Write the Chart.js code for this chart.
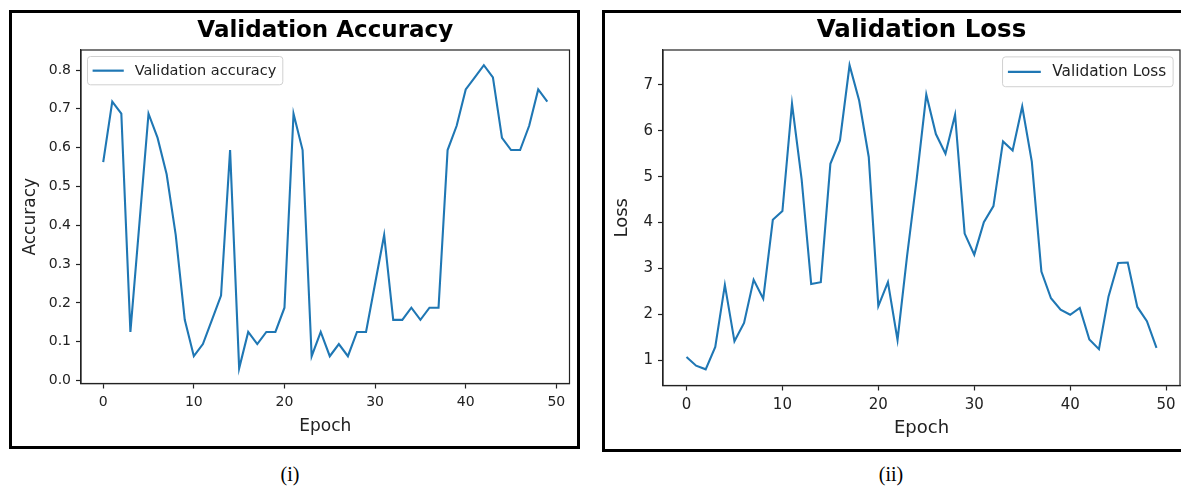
<!DOCTYPE html>
<html>
<head>
<meta charset="utf-8">
<script src="https://cdn.jsdelivr.net/npm/chart.js@4.4.1/dist/chart.umd.min.js"></script>
<style>
  html, body { margin:0; padding:0; background:#fff; width:1181px; height:488px; overflow:hidden; }
  .frame { position:absolute; box-sizing:border-box; border:3px solid #000; background:#fff; overflow:hidden; }
  canvas { position:absolute; left:0; top:0; }
  .cap { position:absolute; font-family:"Liberation Serif","DejaVu Serif",serif; font-size:20px; color:#000; transform:translate(-50%,-50%); white-space:nowrap; }
</style>
</head>
<body>
<div class="frame" id="f1" style="left:9px;top:10px;width:571px;height:439px;"><canvas id="c1" width="565" height="433"></canvas></div>
<div class="frame" id="f2" style="left:602px;top:10px;width:592px;height:442px;"><canvas id="c2" width="583" height="436"></canvas></div>
<div class="cap" style="left:290px;top:474px;">(i)</div>
<div class="cap" style="left:891px;top:474px;">(ii)</div>
<script>
// ---- data ----
const epochs = [0,1,2,3,4,5,6,7,8,9,10,11,12,13,14,15,16,17,18,19,20,21,22,23,24,25,26,27,28,29,30,31,32,33,34,35,36,37,38,39,40,41,42,43,44,45,46,47,48,49];
const valAccuracy = [0.5625,0.71875,0.6875,0.125,0.40625,0.6875,0.625,0.53125,0.375,0.15625,
                     0.0625,0.09375,0.15625,0.21875,0.59375,0.03125,0.125,0.09375,0.125,0.125,
                     0.1875,0.6875,0.59375,0.0625,0.125,0.0625,0.09375,0.0625,0.125,0.125,
                     0.25,0.375,0.15625,0.15625,0.1875,0.15625,0.1875,0.1875,0.59375,0.65625,
                     0.75,0.78125,0.8125,0.78125,0.625,0.59375,0.59375,0.65625,0.75,0.71875];
const valLoss = [1.07,0.88,0.80,1.29,2.64,1.41,1.81,2.75,2.34,4.06,
                 4.25,6.59,4.95,2.66,2.70,5.28,5.79,7.43,6.66,5.43,
                 2.18,2.70,1.44,3.28,4.95,6.79,5.93,5.50,6.35,3.76,
                 3.30,4.01,4.36,5.77,5.57,6.53,5.33,2.93,2.35,2.10,
                 1.99,2.14,1.45,1.24,2.39,3.12,3.13,2.16,1.85,1.27];
const xTicks = [0,10,20,30,40,50];
const accTicks = [0.0,0.1,0.2,0.3,0.4,0.5,0.6,0.7,0.8];
const lossTicks = [1,2,3,4,5,6,7];

const FONT = '"DejaVu Sans", Verdana, sans-serif';
const LINE = '#1f77b4';

// matplotlib-like legend inside the plot + full spine box; title centred over plot area
const mplDecor = {
  id: 'mplDecor',
  afterLayout(chart) {
    const tb = chart.titleBlock, ca = chart.chartArea;
    if (tb && ca) { tb.left = ca.left; tb.right = ca.right; tb.width = ca.right - ca.left; }
  },
  afterDraw(chart, args, o) {
    const ctx = chart.ctx, ca = chart.chartArea;
    ctx.save();
    ctx.strokeStyle = '#222'; ctx.lineWidth = 1.2;
    ctx.strokeRect(ca.left, ca.top, ca.right - ca.left, ca.bottom - ca.top);
    const f = o.fontSize;
    const label = chart.data.datasets[0].label;
    ctx.font = f + 'px ' + FONT;
    const tw = ctx.measureText(label).width;
    const pad = 0.35 * f, handle = 2.15 * f, hpad = 0.75 * f;
    const w = pad + handle + hpad + tw + 0.45 * f, h = 1.95 * f;
    const gap = 0.45 * f;
    const x = o.side === 'right' ? ca.right - gap - w : ca.left + gap;
    const y = ca.top + gap;
    const r = 3;
    ctx.beginPath();
    ctx.moveTo(x + r, y); ctx.lineTo(x + w - r, y); ctx.quadraticCurveTo(x + w, y, x + w, y + r);
    ctx.lineTo(x + w, y + h - r); ctx.quadraticCurveTo(x + w, y + h, x + w - r, y + h);
    ctx.lineTo(x + r, y + h); ctx.quadraticCurveTo(x, y + h, x, y + h - r);
    ctx.lineTo(x, y + r); ctx.quadraticCurveTo(x, y, x + r, y); ctx.closePath();
    ctx.fillStyle = 'rgba(255,255,255,0.8)'; ctx.fill();
    ctx.strokeStyle = '#d0d0d0'; ctx.lineWidth = 1; ctx.stroke();
    const cy = y + h / 2;
    ctx.beginPath(); ctx.moveTo(x + pad, cy); ctx.lineTo(x + pad + handle, cy);
    ctx.strokeStyle = LINE; ctx.lineWidth = 2.2; ctx.stroke();
    ctx.fillStyle = '#222'; ctx.textBaseline = 'middle'; ctx.textAlign = 'left';
    ctx.fillText(label, x + pad + handle + hpad, cy + 0.5);
    ctx.restore();
  }
};

function makeChart(id, cfg) {
  const pts = cfg.values.map((v, i) => ({ x: epochs[i], y: v }));
  return new Chart(document.getElementById(id), {
    type: 'line',
    data: { datasets: [{ label: cfg.label, data: pts, borderColor: LINE, borderWidth: 2.1,
      pointRadius: 0, tension: 0, fill: false }] },
    plugins: [mplDecor],
    options: {
      responsive: false, animation: false, devicePixelRatio: 1,
      layout: { padding: cfg.layoutPad },
      plugins: {
        legend: { display: false }, tooltip: { enabled: false },
        title: { display: true, text: cfg.title, color: '#000',
          font: { family: FONT, size: cfg.titleSize, weight: 'bold' },
          padding: cfg.titlePad },
        mplDecor: { fontSize: cfg.legendSize, side: cfg.legendSide }
      },
      scales: {
        x: {
          type: 'linear', min: -2.45, max: 51.45,
          afterBuildTicks: s => { s.ticks = xTicks.map(v => ({ value: v })); },
          afterFit: s => { s.height = cfg.xHeight; },
          ticks: { color: '#222', font: { family: FONT, size: cfg.tickSize }, padding: cfg.xTickPad,
            maxRotation: 0, autoSkip: false, callback: v => String(v) },
          grid: { display: true, drawOnChartArea: false, drawTicks: true, tickLength: 5, tickWidth: 1.2, tickColor: '#222' },
          border: { display: true, color: '#222', width: 1.2 },
          title: { display: true, text: 'Epoch', color: '#222', font: { family: FONT, size: cfg.axisSize },
            padding: { top: 0, bottom: cfg.xTitlePadBottom } }
        },
        y: {
          type: 'linear', min: cfg.yMin, max: cfg.yMax,
          afterBuildTicks: s => { s.ticks = cfg.yTicks.map(v => ({ value: v })); },
          afterFit: s => { s.width = cfg.yWidth; },
          ticks: { color: '#222', font: { family: FONT, size: cfg.tickSize }, padding: 5,
            autoSkip: false, callback: cfg.yFmt },
          grid: { display: true, drawOnChartArea: false, drawTicks: true, tickLength: 5, tickWidth: 1.2, tickColor: '#222' },
          border: { display: true, color: '#222', width: 1.2 },
          title: { display: true, text: cfg.yTitle, color: '#222', font: { family: FONT, size: cfg.axisSize },
            padding: { top: cfg.yTitlePadTop, bottom: 0 } }
        }
      }
    }
  });
}

makeChart('c1', {
  values: valAccuracy, label: 'Validation accuracy', title: 'Validation Accuracy', yTitle: 'Accuracy',
  yMin: -0.0078, yMax: 0.8516, yTicks: accTicks, yFmt: v => Number(v).toFixed(1),
  titleSize: 23, titlePad: { top: 4.2, bottom: 5.2 }, tickSize: 14, axisSize: 17, legendSize: 14.5, legendSide: 'left',
  layoutPad: { left: 4, right: 7.5, top: 0, bottom: 7.5 },
  yWidth: 65, xHeight: 55, xTickPad: 5.5, xTitlePadBottom: 1.3, yTitlePadTop: 4
});

makeChart('c2', {
  values: valLoss, label: 'Validation Loss', title: 'Validation Loss', yTitle: 'Loss',
  yMin: 0.4475, yMax: 7.7625, yTicks: lossTicks, yFmt: v => String(v),
  titleSize: 24.5, titlePad: { top: 3.3, bottom: 4.3 }, tickSize: 15, axisSize: 18, legendSize: 15.3, legendSide: 'right',
  layoutPad: { left: 4, right: 8, top: 0, bottom: 7.5 },
  yWidth: 54, xHeight: 56, xTickPad: 6, xTitlePadBottom: 2.7, yTitlePadTop: 2.2
});
</script>
</body>
</html>
